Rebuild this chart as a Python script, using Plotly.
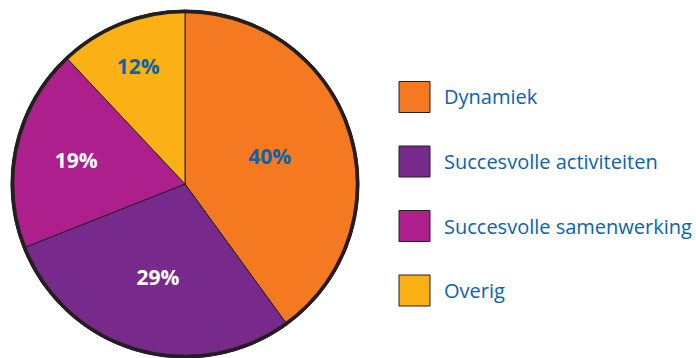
import plotly.graph_objects as go

# Share of answers per category (percent), clockwise from 12 o'clock
categories = ["Dynamiek", "Succesvolle activiteiten", "Succesvolle samenwerking", "Overig"]
values = [40, 29, 19, 12]
slice_colors = ["#F47920", "#772A8C", "#AC1F8C", "#FBB116"]
label_colors = ["#0A63AE", "#FFFFFF", "#FFFFFF", "#0A63AE"]

W, H = 696, 358
FONT = "Open Sans"
TEXT_BLUE = "#0A63AE"
EDGE = "#231F20"

# Pie placement in pixels
pie_left, pie_right = 11, 359
pie_top, pie_bottom = 10, 358

fig = go.Figure()
fig.add_trace(go.Pie(
    labels=categories,
    values=values,
    sort=False,
    direction="clockwise",
    rotation=0,
    marker=dict(colors=slice_colors, line=dict(color=EDGE, width=1)),
    texttemplate="%{value}%",
    textposition="inside",
    insidetextorientation="horizontal",
    textfont=dict(family=FONT, size=21, color=label_colors, weight="bold"),
    hoverinfo="label+percent",
    showlegend=False,
    domain=dict(x=[pie_left / W, pie_right / W],
                y=[(H - pie_bottom) / H, (H - pie_top) / H]),
))

# Heavy outer rim of the pie
r = min(pie_right - pie_left, pie_bottom - pie_top) / 2
cx = (pie_left + pie_right) / 2
cy = pie_top + r
fig.add_shape(type="circle", xref="paper", yref="paper",
              x0=(cx - r + 1.5) / W, x1=(cx + r - 1.5) / W,
              y0=(H - (cy + r - 1.5)) / H, y1=(H - (cy - r + 1.5)) / H,
              line=dict(color=EDGE, width=3.5), fillcolor="rgba(0,0,0,0)")

# Legend: square swatches with labels to the right
sw_x0, sw_size = 399, 31
first_cy, step = 97, 64.5
for i, (name, col) in enumerate(zip(categories, slice_colors)):
    yc = first_cy + i * step
    fig.add_shape(type="rect", xref="paper", yref="paper",
                  x0=sw_x0 / W, x1=(sw_x0 + sw_size) / W,
                  y0=(H - (yc + sw_size / 2)) / H, y1=(H - (yc - sw_size / 2)) / H,
                  line=dict(color=EDGE, width=1), fillcolor=col)
    fig.add_annotation(xref="paper", yref="paper", x=442 / W, y=(H - yc) / H,
                       xanchor="left", yanchor="middle", showarrow=False,
                       text=name, font=dict(family=FONT, size=20, color=TEXT_BLUE))

fig.update_layout(
    width=W, height=H,
    margin=dict(l=0, r=0, t=0, b=0),
    paper_bgcolor="white", plot_bgcolor="white",
)
fig.write_html("out.html")
